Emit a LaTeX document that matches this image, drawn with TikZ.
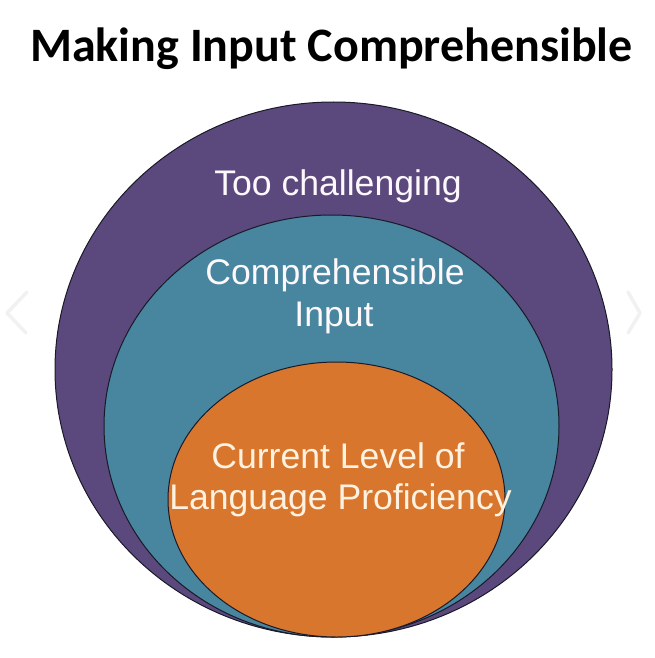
\documentclass[tikz,border=0pt]{standalone}
\usepackage{fontspec}
\setmainfont{Liberation Sans}
\newfontfamily\titlefont{Carlito}
\usetikzlibrary{shapes.geometric}
\definecolor{cpurple}{RGB}{91,73,125}
\definecolor{cteal}{RGB}{72,133,158}
\definecolor{corange}{RGB}{217,118,45}
\definecolor{cline}{RGB}{25,25,40}
\definecolor{ctext}{RGB}{252,248,252}
\definecolor{ctextor}{RGB}{255,242,224}
\definecolor{cfaint}{RGB}{241,241,241}
\begin{document}
\begin{tikzpicture}[x=1pt,y=-1pt,
  ring/.style={ellipse,draw=cline,line width=1pt,inner sep=0pt},
  lbl/.style={anchor=base,inner sep=0pt,font=\fontsize{35.6}{42}\selectfont,text=ctext},
  chev/.style={draw=cfaint,line width=3.5pt,line cap=round,line join=round}]
\useasboundingbox (0,0) rectangle (654,658);
\node[anchor=base,inner sep=0pt,font=\titlefont\bfseries\fontsize{48}{56}\selectfont] (title) at (331.5,62) {Making Input Comprehensible};
\node[ring,fill=cpurple,minimum width=557pt,minimum height=535pt] (outer) at (333.5,369.5) {};
\node[ring,fill=cteal,minimum width=455pt,minimum height=422pt] (middle) at (331.5,426) {};
\node[ring,fill=corange,minimum width=337pt,minimum height=275pt] (inner) at (336.5,499.5) {};
\node[lbl] (too) at (338,195) {Too challenging};
\node[lbl] (comp1) at (335,284) {Comprehensible};
\node[lbl] (comp2) at (334,326) {Input};
\node[lbl,text=ctextor] (cur1) at (338,468) {Current Level of};
\node[lbl,text=ctextor] (cur2) at (340.5,509) {Language Proficiency};
\coordinate (l1) at (27,292); \coordinate (l2) at (7,313); \coordinate (l3) at (26,333);
\coordinate (r1) at (628,292); \coordinate (r2) at (640,313); \coordinate (r3) at (628,333);
\draw[chev] (l1) -- (l2) -- (l3);
\draw[chev] (r1) -- (r2) -- (r3);
\end{tikzpicture}
\end{document}
